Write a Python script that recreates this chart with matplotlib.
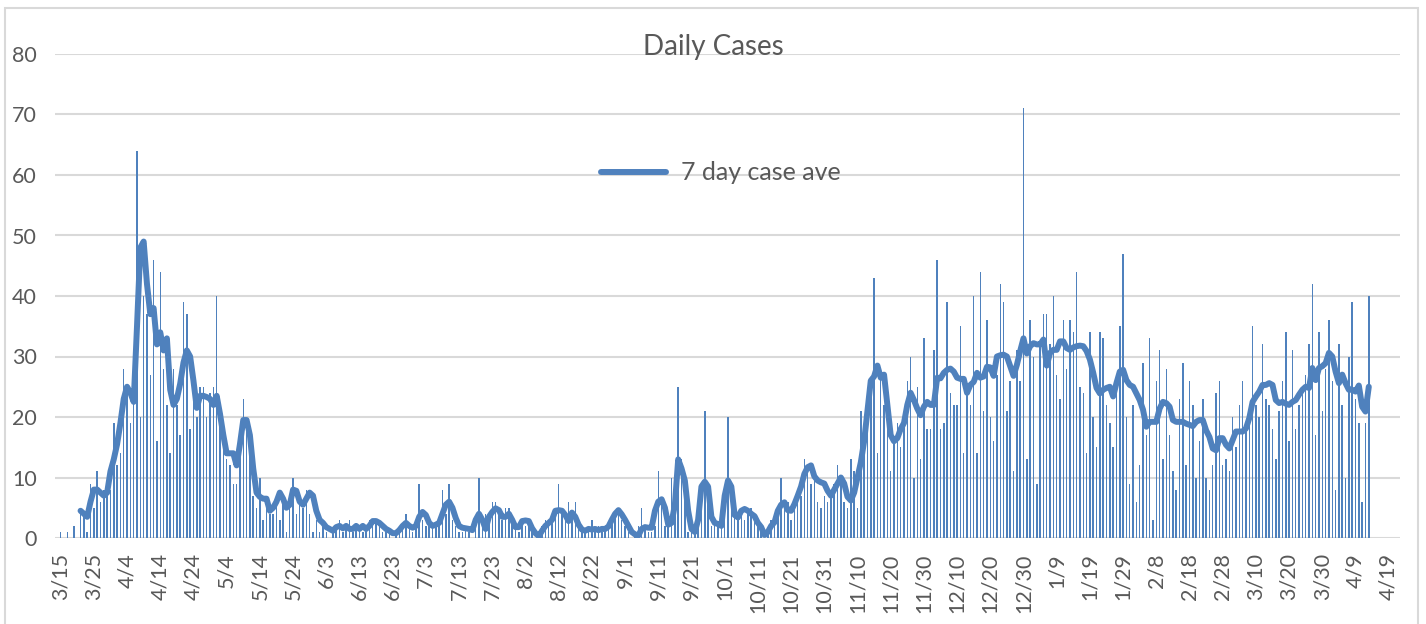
import pandas as pd  # Import Pandas
import matplotlib.pyplot as plt  # Import Matplotlib
from matplotlib.patches import Rectangle  # Chart border

plt.rcParams['font.family'] = ['Lato', 'DejaVu Sans']  # Calibri-like font

# Daily cases, one value per day starting 3/15/2020 (rows of 10 days)
daily_cases = [
    1, 0, 1, 0, 2, 0, 5, 4, 1, 9,            # 3/15
    5, 11, 6, 8, 7, 8, 19, 12, 14, 28,       # 3/25
    25, 19, 23, 64, 20, 40, 37, 27, 46, 16,  # 4/4
    44, 28, 22, 14, 28, 22, 17, 39, 37, 18,  # 4/14
    25, 20, 25, 25, 20, 24, 25, 40, 21, 16,  # 4/24
    13, 12, 9, 9, 14, 23, 18, 15, 7, 5,      # 5/4
    10, 3, 7, 4, 4, 7, 3, 7, 1, 5,           # 5/14
    10, 4, 7, 5, 8, 4, 1, 3, 1, 2,           # 5/24
    1, 0, 1, 2, 3, 1, 2, 3, 1, 2,            # 6/3
    2, 1, 2, 3, 2, 3, 2, 1, 2, 1,            # 6/13
    0, 1, 1, 2, 4, 2, 1, 3, 9, 3,            # 6/23
    2, 3, 2, 2, 3, 8, 4, 9, 3, 2,            # 7/3
    1, 1, 2, 1, 0, 2, 10, 3, 4, 3,           # 7/13
    6, 6, 4, 3, 5, 5, 3, 2, 1, 3,            # 7/23
    2, 3, 1, 0, 1, 2, 3, 2, 3, 4,            # 8/2
    9, 4, 3, 6, 4, 6, 3, 2, 1, 2,            # 8/12
    3, 1, 2, 1, 2, 2, 3, 4, 4, 3,            # 8/22
    2, 1, 0, 1, 2, 5, 2, 1, 1, 2,            # 9/1
    11, 6, 2, 3, 10, 5, 25, 13, 8, 1,        # 9/11
    2, 1, 3, 9, 21, 9, 2, 3, 2, 3,           # 9/21
    8, 20, 9, 5, 4, 5, 3, 4, 5, 3,           # 10/1
    2, 1, 0, 1, 3, 2, 4, 10, 5, 6,           # 10/11
    3, 6, 8, 7, 13, 11, 9, 10, 6, 5,         # 10/21
    7, 6, 8, 9, 12, 10, 6, 5, 13, 11,        # 10/31
    5, 21, 14, 18, 24, 43, 14, 27, 22, 20,   # 11/10
    11, 16, 19, 15, 19, 26, 30, 10, 25, 13,  # 11/20
    33, 18, 18, 31, 46, 18, 19, 39, 24, 22,  # 11/30
    22, 35, 14, 25, 22, 40, 14, 44, 21, 36,  # 12/10
    20, 16, 27, 42, 39, 21, 26, 11, 31, 26,  # 12/20
    71, 13, 36, 30, 9, 32, 37, 37, 32, 40,   # 12/30
    27, 23, 36, 28, 36, 34, 44, 25, 24, 14,  # 1/9
    34, 20, 15, 34, 33, 22, 19, 15, 24, 35,  # 1/19
    47, 20, 9, 22, 6, 12, 29, 17, 33, 3,     # 1/29
    26, 31, 13, 28, 17, 11, 8, 23, 29, 12,   # 2/8
    26, 22, 10, 16, 23, 10, 8, 12, 24, 26,   # 2/18
    12, 13, 11, 20, 15, 22, 26, 18, 21, 35,  # 2/28
    22, 20, 32, 23, 22, 18, 13, 21, 26, 34,  # 3/10
    16, 31, 18, 22, 25, 27, 32, 42, 17, 34,  # 3/20
    21, 28, 36, 26, 8, 32, 22, 10, 30, 39,   # 3/30
    23, 19, 6, 19, 40,                       # 4/9
]

# 7 day case average, starting on 3/21/2020 (7th day)
avg_cases = [
    4.5, 4.0, 3.5, 6.0,                                          # 3/21
    8.0, 8.0, 7.5, 7.0, 7.5, 11.0, 13.0, 15.5, 19.0, 23.0,       # 3/25
    25.0, 24.0, 22.5, 35.0, 48.0, 49.0, 42.0, 37.0, 38.0, 32.0,  # 4/4
    34.0, 31.0, 33.0, 24.5, 22.0, 23.0, 25.5, 29.0, 31.0, 30.0,  # 4/14
    26.0, 21.5, 23.5, 23.5, 23.3, 23.0, 22.0, 23.5, 20.5, 17.0,  # 4/24
    14.0, 14.0, 14.0, 12.0, 15.5, 19.5, 19.5, 17.0, 11.5, 7.5,   # 5/4
    6.8, 6.5, 6.5, 4.5, 5.0, 6.0, 7.5, 6.5, 5.0, 5.5,            # 5/14
    8.0, 7.8, 6.0, 5.5, 6.5, 7.5, 7.0, 4.5, 3.0, 2.5,            # 5/24
    1.8, 1.5, 1.2, 1.8, 2.0, 1.6, 2.0, 1.5, 1.5, 2.0,            # 6/3
    1.5, 2.0, 1.5, 2.0, 2.8, 2.8, 2.5, 2.0, 1.5, 1.2,            # 6/13
    0.8, 0.8, 1.3, 2.0, 2.5, 2.0, 1.7, 2.0, 3.5, 4.3,            # 6/23
    3.8, 2.5, 2.0, 2.2, 2.5, 4.0, 5.5, 6.0, 5.0, 3.3,            # 7/3
    2.0, 1.7, 1.6, 1.5, 1.3, 3.0, 4.0, 3.0, 1.5, 3.5,            # 7/13
    4.3, 4.9, 4.6, 3.5, 3.5, 4.0, 3.0, 1.8, 1.8, 2.8,            # 7/23
    2.9, 2.8, 1.6, 0.8, 0.3, 1.2, 2.0, 2.5, 3.0, 4.5,            # 8/2
    4.6, 4.5, 3.8, 2.8, 4.2, 3.5, 2.2, 1.4, 1.2, 1.5,            # 8/12
    1.4, 1.5, 1.3, 1.5, 1.5, 1.9, 3.0, 4.0, 4.6, 3.9,            # 8/22
    3.0, 2.0, 1.0, 0.6, 0.4, 1.5, 1.8, 1.7, 1.7, 4.5,            # 9/1
    6.0, 6.4, 5.0, 2.2, 2.5, 5.5, 13.0, 11.5, 9.5, 4.5,          # 9/11
    1.5, 1.0, 3.0, 8.5, 9.3, 8.5, 3.5, 2.5, 2.3, 2.0,            # 9/21
    7.0, 9.5, 8.5, 3.8, 3.4, 4.5, 4.8, 4.5, 4.0, 3.6,            # 10/1
    2.5, 1.8, 0.5, 1.0, 2.0, 2.6, 4.5, 5.5, 5.9, 4.6,            # 10/11
    4.5, 5.6, 7.0, 8.5, 10.6, 11.7, 12.0, 10.2, 9.5, 9.2,        # 10/21
    9.0, 7.8, 7.0, 8.0, 9.0, 10.0, 9.0, 6.8, 6.2, 7.5,           # 10/31
    10.0, 12.5, 16.0, 21.0, 26.0, 26.7, 28.5, 26.5, 27.0, 22.0,  # 11/10
    17.0, 16.0, 16.5, 18.0, 19.0, 22.0, 24.0, 22.8, 21.4, 20.3,  # 11/20
    21.7, 22.5, 22.0, 22.0, 26.5, 26.4, 27.3, 27.8, 28.0, 27.5,  # 11/30
    26.5, 26.3, 26.3, 24.0, 25.3, 25.8, 27.3, 26.5, 26.7, 28.3,  # 12/10
    28.2, 26.8, 30.0, 30.2, 30.3, 30.0, 28.4, 26.8, 28.6, 30.9,  # 12/20
    33.0, 30.5, 31.7, 32.2, 32.0, 32.0, 32.8, 28.5, 30.6, 31.1,  # 12/30
    31.1, 32.5, 32.5, 31.4, 31.1, 31.5, 31.7, 31.8, 31.7, 30.9,  # 1/9
    29.5, 27.3, 24.8, 23.9, 24.5, 24.8, 25.0, 23.4, 25.6, 27.5,  # 1/19
    27.8, 26.1, 25.3, 25.0, 23.9, 22.8, 21.2, 18.4, 19.2, 19.2,  # 1/29
    19.2, 21.4, 22.5, 22.3, 21.7, 19.5, 19.2, 19.2, 19.2, 18.9,  # 2/8
    18.7, 18.5, 19.2, 19.5, 19.5, 17.8, 16.7, 14.8, 14.5, 16.5,  # 2/18
    16.5, 15.4, 14.8, 16.2, 17.6, 17.6, 17.6, 18.1, 19.8, 22.5,  # 2/28
    23.4, 24.2, 25.3, 25.3, 25.6, 25.3, 22.8, 22.3, 22.5, 22.2,  # 3/10
    22.0, 22.5, 22.8, 23.7, 24.5, 25.0, 24.8, 28.1, 26.1, 28.1,  # 3/20
    28.4, 28.9, 30.6, 30.0, 27.5, 25.6, 27.0, 25.6, 24.5, 24.5,  # 3/30
    24.2, 25.2, 21.7, 20.9, 25.0,                                # 4/9
]

# Axis tick labels (every 10 days)
tick_labels = ["3/15", "3/25", "4/4", "4/14", "4/24", "5/4", "5/14", "5/24",
               "6/3", "6/13", "6/23", "7/3", "7/13", "7/23", "8/2", "8/12",
               "8/22", "9/1", "9/11", "9/21", "10/1", "10/11", "10/21",
               "10/31", "11/10", "11/20", "11/30", "12/10", "12/20", "12/30",
               "1/9", "1/19", "1/29", "2/8", "2/18", "2/28", "3/10", "3/20",
               "3/30", "4/9", "4/19"]

start = pd.Timestamp("2020-03-15")  # First day
dates = pd.date_range(start, periods=len(daily_cases), freq="D")  # Bar dates
avg_dates = dates[6:6 + len(avg_cases)]  # Average starts on day 7
tick_dates = pd.date_range(start, periods=len(tick_labels), freq="10D")

blue = "#4F81BD"  # Excel blue
grid = "#D9D9D9"  # Light gray
text = "#595959"  # Dark gray text

fig = plt.figure(figsize=(14.26, 6.24), dpi=100)  # 1426x624 px
ax = fig.add_axes([55 / 1426, 1 - 538 / 624, 1345 / 1426, 484 / 624])

ax.bar(dates, daily_cases, width=0.45, color=blue, zorder=2)  # Daily bars
ax.plot(avg_dates, avg_cases, color=blue, lw=4.3, solid_capstyle="round",
        solid_joinstyle="round", zorder=3, label="7 day case ave")  # 7 day line

ax.set_ylim(0, 80)
ax.set_yticks(range(0, 81, 10))
ax.set_xlim(start - pd.Timedelta(days=1.7), start + pd.Timedelta(days=403.4))
ax.set_xticks(tick_dates)
ax.set_xticklabels(tick_labels, rotation=90, va="top", ha="center")

ax.yaxis.grid(True, color=grid, lw=1.5, zorder=0)  # Horizontal gridlines
for s in ax.spines.values():
    s.set_visible(False)
ax.tick_params(axis="both", length=0, labelsize=15.5, labelcolor=text)
ax.tick_params(axis="x", pad=11)
ax.tick_params(axis="y", pad=13)

# Title and legend sit inside the plot area, like Excel
fig.text(713 / 1426, 1 - 47 / 624, "Daily Cases", ha="center", va="center",
         fontsize=20, color=text)
ax.legend(loc="center", bbox_to_anchor=(721 / 1426, 1 - 173 / 624),
          bbox_transform=fig.transFigure, frameon=False, fontsize=18,
          handlelength=2.6, handletextpad=0.6, labelcolor=text)

# Chart border
fig.patches.append(Rectangle((5 / 1426, -0.05), 1413 / 1426, 1.05 - 8 / 624,
                             transform=fig.transFigure, fill=False,
                             edgecolor=grid, lw=1.5))

plt.savefig("out.png", dpi=100)  # Save plot
plt.close()  # Close figure
